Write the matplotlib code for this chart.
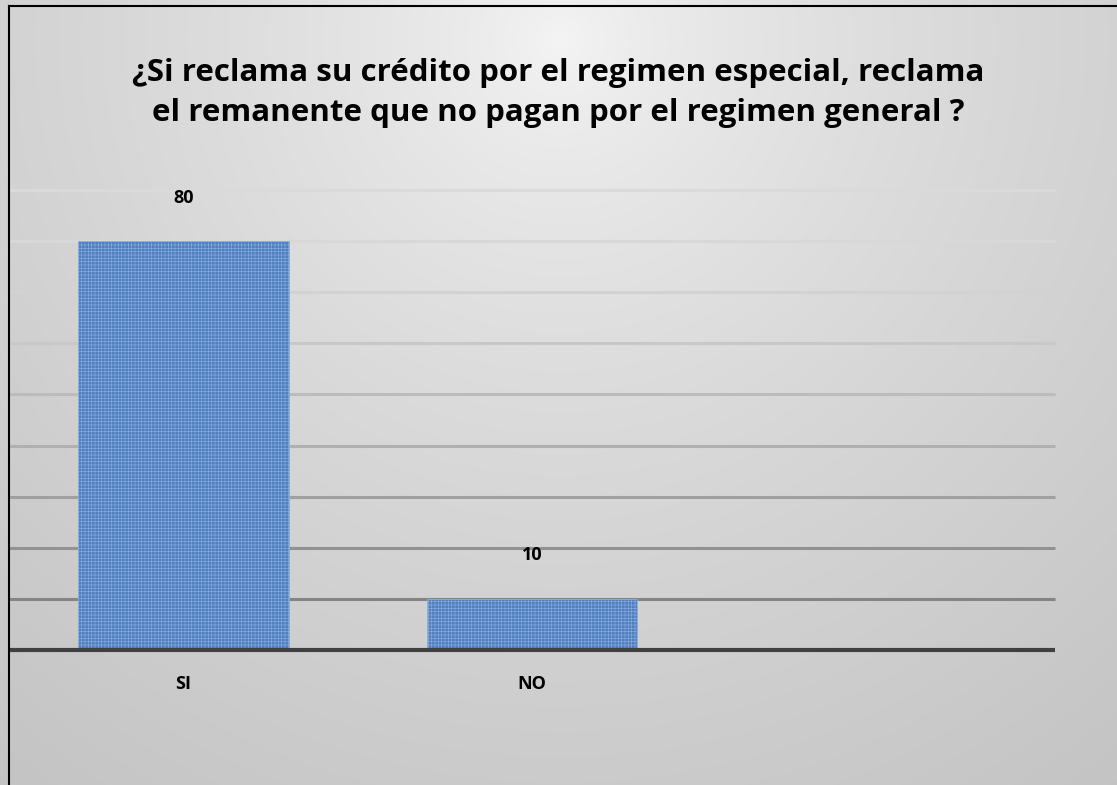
import matplotlib
matplotlib.use("Agg")
import matplotlib.pyplot as plt
import numpy as np
from matplotlib.lines import Line2D

categories = ["SI", "NO", ""]
values = [80, 10, 0]
grid_ticks = [10, 20, 30, 40, 50, 60, 70, 80, 90]
grid_colors = ["#848484", "#929292", "#a0a0a0", "#b0b0b0", "#bcbcbc",
               "#c8c8c8", "#d2d2d2", "#d8d8d8", "#dadada"]

title = ("¿Si reclama su crédito por el regimen especial, reclama\n"
         "el remanente que no pagan por el regimen general ?")

W, H = 1117, 785
fig = plt.figure(figsize=(W / 100, H / 100), dpi=100)

# ── background gradient ─────────────────────────────────────────────
bg = fig.add_axes([0, 0, 1, 1], zorder=0)
yy, xx = np.mgrid[0:H, 0:W]
d = np.sqrt((xx - 560) ** 2 + (yy - 40) ** 2)
shade = 0.96 - 0.195 * np.clip(d / 950, 0, 1) ** 0.7
bg.imshow(np.dstack([shade] * 3), aspect="auto", extent=[0, W, H, 0])
bg.set_xlim(0, W)
bg.set_ylim(H, 0)
bg.axis("off")

# border (left and top only visible)
fig.add_artist(Line2D([8.5 / W, 8.5 / W], [0, 1 - 6 / H], color="black", lw=1.5))
fig.add_artist(Line2D([8.5 / W, 1], [1 - 6 / H, 1 - 6 / H], color="black", lw=1.5))

# ── bars ────────────────────────────────────────────────────────────
left, right = 9 / W, 1055 / W
bottom, top = 1 - 650 / H, 1 - 190 / H
ax = fig.add_axes([left, bottom, right - left, top - bottom], zorder=1)
ax.patch.set_alpha(0)

x = np.arange(len(categories))
for yv, c in zip(grid_ticks, grid_colors):
    ax.axhline(yv, color=c, lw=2.2, zorder=1, clip_on=False, solid_capstyle="butt")

plt.rcParams["hatch.linewidth"] = 0.4
bars = ax.bar(x, values, width=0.605, color="#4f7fc1", edgecolor="#8fb0dd",
              hatch="+++++", linewidth=0.6, zorder=2)
ax.axhline(0, color="#404040", lw=3, zorder=3, clip_on=False, solid_capstyle="butt")

for xi, v, cat in zip(x, values, categories):
    if cat:
        ax.text(xi, v + 8.5, str(v), ha="center", va="center", fontsize=13,
                fontweight="bold", family="Open Sans", color="black")
        ax.text(xi, -6.6, cat, ha="center", va="center", fontsize=13,
                fontweight="bold", family="Open Sans", color="black")

ax.set_xlim(-0.5, 2.5)
ax.set_ylim(0, 90)
ax.set_xticks([])
ax.set_yticks([])
for s in ax.spines.values():
    s.set_visible(False)

fig.text(0.5, 1 - 93 / H, title, ha="center", va="center", fontsize=22.5,
         fontweight="bold", family="Open Sans", linespacing=1.42, color="black")

fig.savefig("out.png", dpi=100)
